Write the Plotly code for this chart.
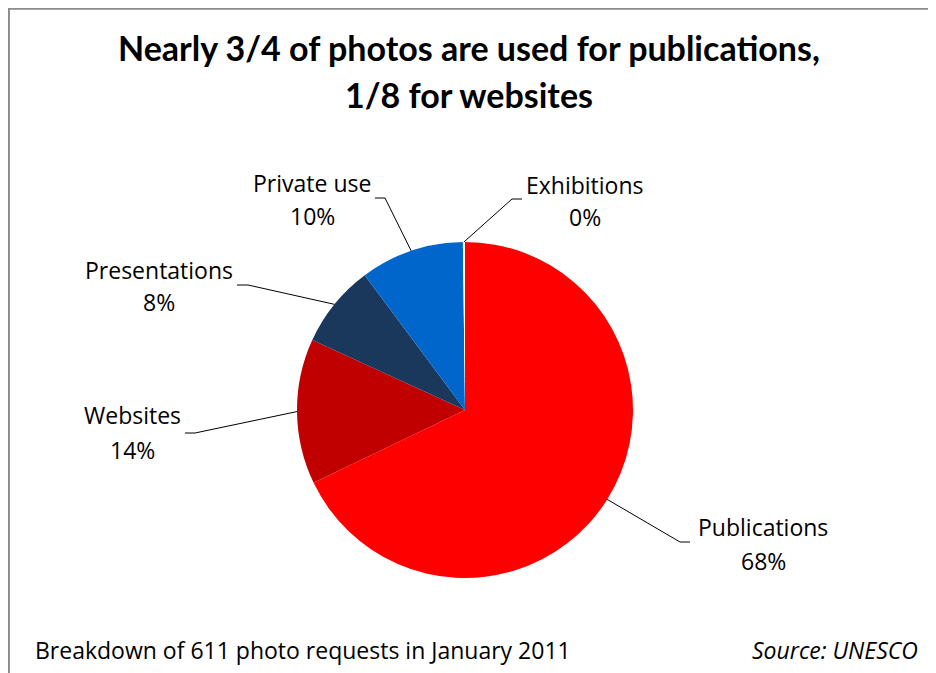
import plotly.graph_objects as go
import math

# ─── DATA ────────────────────────────────────────────────────────────────────
categories = ["Publications", "Websites", "Presentations", "Private use", "Exhibitions"]
shares = [68, 14, 8, 10, 0.2]          # % of 611 photo requests, Jan 2011
colors = ["#FF0000", "#C00000", "#1A375C", "#0066CC", "#FFFFFF"]

title_lines = ["Nearly 3/4 of photos are used for publications,", "1/8 for websites"]
footnote = "Breakdown of 611 photo requests in January 2011"
source = "Source: UNESCO"

# ─── LAYOUT (screen pixels; the page body adds an 8px margin) ────────────────
W, H = 936, 673
OFF = 8
CX, CY, R = 465, 410, 168
FONT = "Open Sans"
FS = 23

# label text centre (x, y of name, y of pct), leader elbow and tail
LABELS = {
    "Publications":  dict(tx=763, ty1=527, ty2=561, ex=680, ey=542, tail=690),
    "Websites":      dict(tx=132, ty1=415, ty2=450, ex=195, ey=433, tail=185),
    "Presentations": dict(tx=159, ty1=270, ty2=302, ex=248, ey=285, tail=237),
    "Private use":   dict(tx=312, ty1=183, ty2=216, ex=385, ey=198, tail=375),
    "Exhibitions":   dict(tx=585, ty1=185, ty2=217, ex=512, ey=199, tail=522),
}


def px(x):
    return (x - OFF) / W


def py(y):
    return 1 - (y - OFF) / H


fig = go.Figure(go.Pie(
    labels=categories, values=shares, sort=False, direction="clockwise",
    marker=dict(colors=colors, line=dict(width=0)),
    textinfo="none", hoverinfo="label+percent", showlegend=False,
    domain=dict(x=[px(CX - R), px(CX + R)], y=[py(CY + R), py(CY - R)]),
))

annotations = []
shapes = []
total = sum(shares)
cum = 0
for name, v in zip(categories, shares):
    mid = (cum + v / 2) / total * 2 * math.pi
    cum += v
    edge_x = CX + R * math.sin(mid)
    edge_y = CY - R * math.cos(mid)
    p = LABELS[name]
    shapes.append(dict(
        type="path", xref="paper", yref="paper",
        path=f"M {px(edge_x)} {py(edge_y)} L {px(p['ex'])} {py(p['ey'])} L {px(p['tail'])} {py(p['ey'])}",
        line=dict(color="#000000", width=1),
    ))
    for txt, yy in [(name, p["ty1"]), (f"{v / total * 100:.0f}%", p["ty2"])]:
        annotations.append(dict(
            text=txt, x=px(p["tx"]), y=py(yy), xref="paper", yref="paper",
            xanchor="center", yanchor="middle", showarrow=False,
            font=dict(family=FONT, size=FS, color="#000000"),
        ))

for txt, yy in zip(title_lines, [47, 95]):
    annotations.append(dict(
        text=f"<b>{txt}</b>", x=px(469), y=py(yy), xref="paper", yref="paper",
        xanchor="center", yanchor="middle", showarrow=False,
        font=dict(family="Lato", size=34, color="#000000"),
    ))

annotations.append(dict(
    text=footnote, x=px(33), y=py(650), xref="paper", yref="paper",
    xanchor="left", yanchor="middle", showarrow=False,
    font=dict(family=FONT, size=FS, color="#000000"),
))
annotations.append(dict(
    text=f"<i>{source}</i>", x=px(920), y=py(650), xref="paper", yref="paper",
    xanchor="right", yanchor="middle", showarrow=False,
    font=dict(family=FONT, size=FS, color="#000000"),
))

# chart-area border (left and top visible, rest runs off the window)
shapes.append(dict(
    type="rect", xref="paper", yref="paper",
    x0=0.001, y0=-0.1, x1=1.1, y1=0.999,
    line=dict(color="#8C8C8C", width=2),
))

fig.update_layout(
    width=W, height=H, autosize=False,
    margin=dict(l=0, r=0, t=0, b=0),
    paper_bgcolor="#FFFFFF", plot_bgcolor="#FFFFFF",
    annotations=annotations, shapes=shapes,
)

fig.write_html("out.html")
